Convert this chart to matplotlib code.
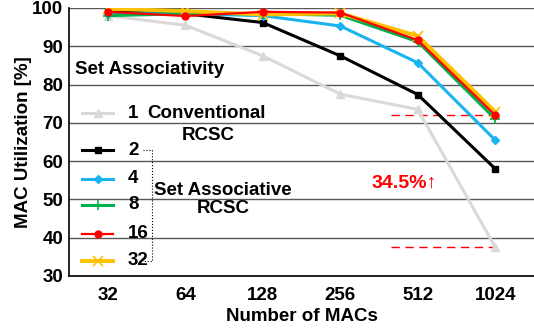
import matplotlib.pyplot as plt
from matplotlib.lines import Line2D

plt.rcParams['font.family'] = ['Liberation Sans', 'DejaVu Sans']
plt.rcParams['font.weight'] = 'bold'

# data
macs = ['32', '64', '128', '256', '512', '1024']
conventional = [98.0, 95.5, 87.5, 77.5, 73.5, 37.5]
assoc_2 = [99.0, 98.5, 96.2, 87.5, 77.4, 58.0]
assoc_4 = [98.5, 98.5, 98.0, 95.3, 85.7, 65.5]
assoc_8 = [98.0, 98.5, 98.5, 98.1, 91.2, 71.0]
assoc_16 = [99.0, 97.9, 99.0, 98.8, 91.6, 72.0]
assoc_32 = [99.8, 99.2, 98.3, 98.6, 92.7, 72.9]
legend_labels = ['1', '2', '4', '8', '16', '32']
gain_text = '34.5%\u2191'

FS = 13.5

fig = plt.figure(figsize=(5.34, 3.31), dpi=100)
ax = fig.add_axes([69 / 534, 55 / 331, 465 / 534, 268 / 331])

styles = [
    dict(color='#d9d9d9', lw=2.2, marker='^', ms=6, zorder=3),
    dict(color='black', lw=2.2, marker='s', ms=4, zorder=4),
    dict(color='#19b4ef', lw=2.2, marker='D', ms=4.5, zorder=5),
    dict(color='#00b050', lw=2.2, marker='+', ms=7, mew=1.2, zorder=6),
    dict(color='#ff0000', lw=1.6, marker='o', ms=5, zorder=8),
    dict(color='#ffc000', lw=2.8, marker='x', ms=7, mew=1.2, zorder=7),
]
series = [conventional, assoc_2, assoc_4, assoc_8, assoc_16, assoc_32]

x = range(len(macs))
for ys, st in zip(series, styles):
    ax.plot(x, ys, **st)

# dashed guides at the 1024 values of 16-way and conventional
ax.plot([3.66, 5], [assoc_16[-1], assoc_16[-1]], color='#ff0000', lw=1, ls=(0, (6, 4)), zorder=2)
ax.plot([3.66, 5], [conventional[-1], conventional[-1]], color='#ff0000', lw=1, ls=(0, (6, 4)), zorder=2)
ax.text(3.83, 54.3, gain_text, color='#ff0000', fontsize=14, fontweight='bold',
        ha='center', va='center')

ax.set_xlim(-0.5, 5.5)
ax.set_ylim(30, 100)
ax.set_yticks(range(30, 101, 10))
ax.set_xticks(list(x))
ax.set_xticklabels(macs)
ax.tick_params(length=0, labelsize=FS, pad=8)
ax.tick_params(axis='y', pad=4)
ax.grid(axis='y', color='#595959', lw=1)
ax.set_axisbelow(True)
for s in ['top', 'right']:
    ax.spines[s].set_visible(False)
ax.spines['left'].set_linewidth(1.2)
ax.spines['bottom'].set_linewidth(1.2)

ax.set_xlabel('Number of MACs', fontsize=FS, fontweight='bold', labelpad=3)
ax.set_ylabel('MAC Utilization [%]', fontsize=FS, fontweight='bold', labelpad=0)

# hand-placed legend (axes fraction)
ax.text(0.013, 0.769, 'Set Associativity', transform=ax.transAxes, fontsize=FS,
        fontweight='bold', ha='left', va='center')
rows = [0.608, 0.470, 0.362, 0.265, 0.157, 0.056]
for lab, yy, st in zip(legend_labels, rows, styles):
    h = Line2D([0.028, 0.062, 0.095], [yy, yy, yy], transform=ax.transAxes,
               markevery=[1], **{k: v for k, v in st.items() if k != 'zorder'})
    h.set_zorder(9)
    ax.add_line(h)
    ax.text(0.127, yy, lab, transform=ax.transAxes, fontsize=FS, fontweight='bold',
            ha='left', va='center')
ax.text(0.168, 0.608, 'Conventional', transform=ax.transAxes, fontsize=FS, fontweight='bold',
        ha='left', va='center')
ax.text(0.299, 0.526, 'RCSC', transform=ax.transAxes, fontsize=FS, fontweight='bold',
        ha='center', va='center')
ax.text(0.331, 0.285, 'Set Associative\nRCSC', transform=ax.transAxes, fontsize=FS,
        fontweight='bold', ha='center', va='center', linespacing=1.1)
bracket = Line2D([0.159, 0.178, 0.178, 0.159], [0.470, 0.470, 0.056, 0.056],
                 transform=ax.transAxes, color='black', lw=0.8, ls=':')
ax.add_line(bracket)

fig.savefig('out.png', dpi=100)
